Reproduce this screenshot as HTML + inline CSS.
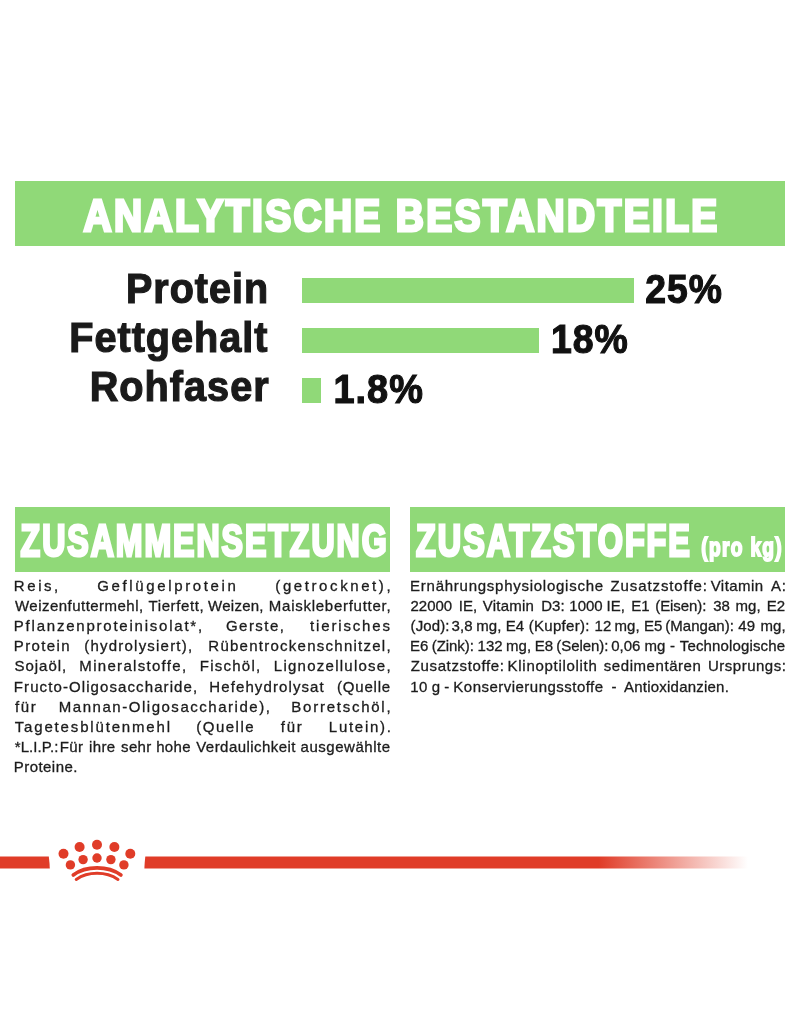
<!DOCTYPE html>
<html lang="de"><head><meta charset="utf-8"><title>Analytische Bestandteile</title>
<style>
html,body{margin:0;padding:0;background:#fff}
body{width:800px;height:1012px;position:relative;overflow:hidden;font-family:"Liberation Sans",sans-serif}
.g{position:absolute;background:#90d978}

.ln{position:absolute;left:0;width:800px;height:0;font-size:15px;line-height:0;color:#1c1c1c;-webkit-text-stroke:0.3px #1c1c1c;white-space:nowrap}
.ln span{position:absolute;top:0;display:block;line-height:0}
svg{position:absolute;left:0;top:0}
</style></head><body>
<div class="g" style="left:15px;top:181px;width:770px;height:65px"></div>
<div class="g" style="left:302px;top:277.5px;width:332px;height:25.5px"></div>
<div class="g" style="left:302px;top:327.5px;width:237px;height:25.5px"></div>
<div class="g" style="left:302px;top:377.5px;width:19px;height:25.5px"></div>
<div class="g" style="left:15px;top:506.6px;width:374.6px;height:65.1px"></div>
<div class="g" style="left:410px;top:506.6px;width:375px;height:65.1px"></div>
<svg class="t" width="800" height="1012" viewBox="0 0 800 1012" font-family="Liberation Sans, sans-serif" font-weight="bold" stroke-linejoin="miter">
<text transform="translate(83.61 230.70) scale(0.8777 1)" font-size="44.32" fill="#fff" stroke="#fff" stroke-width="3.0" letter-spacing="2.70">ANALYTISCHE BESTANDTEILE</text>
<text transform="translate(20.59 555.75) scale(0.7276 1)" font-size="44.10" fill="#fff" stroke="#fff" stroke-width="3.0" letter-spacing="2.70">ZUSAMMENSETZUNG</text>
<text transform="translate(416.09 555.75) scale(0.7333 1)" font-size="44.10" fill="#fff" stroke="#fff" stroke-width="3.0" letter-spacing="2.70">ZUSATZSTOFFE</text>
<text transform="translate(701.33 555.57) scale(0.7309 1)" font-size="26.16" fill="#fff" stroke="#fff" stroke-width="2.0" letter-spacing="1.80">(pro kg)</text>
<text transform="translate(125.99 303.30) scale(0.9280 1)" font-size="42.59" fill="#1a1a1a" stroke="#1a1a1a" stroke-width="1.2" letter-spacing="1.08">Protein</text>
<text transform="translate(69.18 352.20) scale(0.9308 1)" font-size="42.59" fill="#1a1a1a" stroke="#1a1a1a" stroke-width="1.2" letter-spacing="1.08">Fettgehalt</text>
<text transform="translate(89.67 401.30) scale(0.9257 1)" font-size="42.88" fill="#1a1a1a" stroke="#1a1a1a" stroke-width="1.2" letter-spacing="1.08">Rohfaser</text>
<text transform="translate(645.28 303.15) scale(0.9077 1)" font-size="41.14" fill="#111" stroke="#111" stroke-width="1.2" letter-spacing="1.08">25%</text>
<text transform="translate(551.01 353.20) scale(0.9128 1)" font-size="41.00" fill="#111" stroke="#111" stroke-width="1.2" letter-spacing="1.08">18%</text>
<text transform="translate(333.49 403.20) scale(0.9246 1)" font-size="41.00" fill="#111" stroke="#111" stroke-width="1.2" letter-spacing="1.08">1.8%</text>
</svg>
<div class="ln" style="top:586px"><span style="left:13.83px;letter-spacing:2.568px">Reis,</span> <span style="left:97.30px;letter-spacing:2.629px">Geflügelprotein</span> <span style="left:275.30px;letter-spacing:2.594px">(getrocknet),</span></div>
<div class="ln" style="top:606px"><span style="left:15.00px;letter-spacing:0.470px">Weizenfuttermehl,</span> <span style="left:148.52px;letter-spacing:0.602px">Tierfett,</span> <span style="left:208.12px;letter-spacing:0.245px">Weizen,</span> <span style="left:268.83px;letter-spacing:0.734px">Maiskleberfutter,</span></div>
<div class="ln" style="top:626px"><span style="left:13.83px;letter-spacing:1.774px">Pflanzenproteinisolat*,</span> <span style="left:225.95px;letter-spacing:1.474px">Gerste,</span> <span style="left:310.00px;letter-spacing:1.846px">tierisches</span></div>
<div class="ln" style="top:646px"><span style="left:13.83px;letter-spacing:1.373px">Protein</span> <span style="left:84.30px;letter-spacing:1.212px">(hydrolysiert),</span> <span style="left:208.33px;letter-spacing:1.256px">Rübentrockenschnitzel,</span></div>
<div class="ln" style="top:666px"><span style="left:14.53px;letter-spacing:0.961px">Sojaöl,</span> <span style="left:79.33px;letter-spacing:1.310px">Mineralstoffe,</span> <span style="left:199.83px;letter-spacing:1.230px">Fischöl,</span> <span style="left:273.83px;letter-spacing:1.254px">Lignozellulose,</span></div>
<div class="ln" style="top:687px"><span style="left:13.83px;letter-spacing:1.094px">Fructo-Oligosaccharide,</span> <span style="left:209.33px;letter-spacing:1.102px">Hefehydrolysat</span> <span style="left:337.09px;letter-spacing:0.777px">(Quelle</span></div>
<div class="ln" style="top:707px"><span style="left:15.00px;letter-spacing:1.610px">für</span> <span style="left:58.83px;letter-spacing:1.527px">Mannan-Oligosaccharide),</span> <span style="left:291.33px;letter-spacing:1.751px">Borretschöl,</span></div>
<div class="ln" style="top:727px"><span style="left:14.77px;letter-spacing:1.832px">Tagetesblütenmehl</span> <span style="left:196.27px;letter-spacing:1.502px">(Quelle</span> <span style="left:280.78px;letter-spacing:1.752px">für</span> <span style="left:328.83px;letter-spacing:1.714px">Lutein).</span></div>
<div class="ln" style="top:747px"><span style="left:14.77px;letter-spacing:0.079px">*L.I.P.:</span> <span style="left:59.75px;letter-spacing:0.329px">Für</span> <span style="left:89.09px;letter-spacing:0.329px">ihre</span> <span style="left:121.09px;letter-spacing:0.329px">sehr</span> <span style="left:156.16px;letter-spacing:0.329px">hohe</span> <span style="left:196.25px;letter-spacing:0.447px">Verdaulichkeit</span> <span style="left:300.53px;letter-spacing:0.535px">ausgewählte</span></div>
<div class="ln" style="top:767px"><span style="left:13.83px;letter-spacing:0.436px">Proteine.</span></div>
<div class="ln" style="top:586px"><span style="left:410.08px;letter-spacing:0.743px">Ernährungsphysiologische</span> <span style="left:610.53px;letter-spacing:0.894px">Zusatzstoffe:</span> <span style="left:710.68px;letter-spacing:0.455px">Vitamin</span> <span style="left:770.98px;letter-spacing:0.705px">A:</span></div>
<div class="ln" style="top:606px"><span style="left:410.55px;letter-spacing:-0.026px">22000</span> <span style="left:458.83px;letter-spacing:-0.026px">IE,</span> <span style="left:482.75px;letter-spacing:0.224px">Vitamin</span> <span style="left:541.32px;letter-spacing:-0.026px">D3:</span> <span style="left:569.32px;letter-spacing:-0.026px">1000</span> <span style="left:606.58px;letter-spacing:-0.026px">IE,</span> <span style="left:631.31px;letter-spacing:-0.026px">E1</span> <span style="left:655.30px;letter-spacing:-0.089px">(Eisen):</span> <span style="left:713.24px;letter-spacing:-0.026px">38</span> <span style="left:735.62px;letter-spacing:-0.026px">mg,</span> <span style="left:766.79px;letter-spacing:-0.026px">E2</span></div>
<div class="ln" style="top:626px"><span style="left:410.55px;letter-spacing:0.103px">(Jod):</span> <span style="left:451.54px;letter-spacing:0.103px">3,8</span> <span style="left:476.24px;letter-spacing:0.103px">mg,</span> <span style="left:505.63px;letter-spacing:0.103px">E4</span> <span style="left:528.80px;letter-spacing:0.276px">(Kupfer):</span> <span style="left:594.44px;letter-spacing:0.103px">12</span> <span style="left:614.49px;letter-spacing:0.103px">mg,</span> <span style="left:643.99px;letter-spacing:0.103px">E5</span> <span style="left:665.30px;letter-spacing:0.024px">(Mangan):</span> <span style="left:738.29px;letter-spacing:0.103px">49</span> <span style="left:760.41px;letter-spacing:0.103px">mg,</span></div>
<div class="ln" style="top:646px"><span style="left:410.08px;letter-spacing:-0.012px">E6</span> <span style="left:431.80px;letter-spacing:-0.073px">(Zink):</span> <span style="left:477.58px;letter-spacing:-0.012px">132</span> <span style="left:506.10px;letter-spacing:-0.012px">mg,</span> <span style="left:534.80px;letter-spacing:-0.012px">E8</span> <span style="left:556.30px;letter-spacing:-0.066px">(Selen):</span> <span style="left:611.24px;letter-spacing:-0.012px">0,06</span> <span style="left:644.54px;letter-spacing:-0.012px">mg</span> <span style="left:670.04px;letter-spacing:-0.012px">-</span> <span style="left:679.77px;letter-spacing:0.149px">Technologische</span></div>
<div class="ln" style="top:666px"><span style="left:410.78px;letter-spacing:0.623px">Zusatzstoffe:</span> <span style="left:507.58px;letter-spacing:0.709px">Klinoptilolith</span> <span style="left:603.77px;letter-spacing:0.563px">sedimentären</span> <span style="left:708.06px;letter-spacing:0.493px">Ursprungs:</span></div>
<div class="ln" style="top:687px"><span style="left:410.31px;letter-spacing:0.394px">10</span> <span style="left:431.77px;letter-spacing:0.394px">g</span> <span style="left:444.16px;letter-spacing:0.394px">-</span> <span style="left:453.33px;letter-spacing:0.481px">Konservierungsstoffe</span> <span style="left:611.54px;letter-spacing:0.394px">-</span> <span style="left:624.00px;letter-spacing:0.223px">Antioxidanzien.</span></div>
<svg width="800" height="1012" viewBox="0 0 800 1012">
<defs><linearGradient id="fade" x1="0" x2="1" y1="0" y2="0"><stop offset="0" stop-color="#e03c28"/><stop offset="0.753" stop-color="#e03c28"/><stop offset="1" stop-color="#e03c28" stop-opacity="0"/></linearGradient></defs>
<path d="M0 856.5 H48.8 Q49.6 862.6 49.8 868.6 H0 Z" fill="#e03c28"/>
<path d="M145.3 856.5 H748 V868.6 H144.4 Q144.6 862.6 145.3 856.5 Z" fill="url(#fade)"/>
<g fill="#e03c28"><circle cx="63.5" cy="853.8" r="5"/><circle cx="79.6" cy="847.0" r="5"/><circle cx="97" cy="844.7" r="5"/><circle cx="114.4" cy="847.0" r="5"/><circle cx="130.3" cy="853.8" r="5"/><circle cx="70.4" cy="864.9" r="4.7"/><circle cx="83.1" cy="859.6" r="4.7"/><circle cx="97" cy="858.0" r="4.7"/><circle cx="110.9" cy="859.6" r="4.7"/><circle cx="123.9" cy="864.9" r="4.7"/></g>
<path d="M73.3 875 C86 865.5 108 865.5 120.9 875" fill="none" stroke="#e03c28" stroke-width="3.7" stroke-linecap="round"/>
<path d="M76.2 879.4 C88 871.3 106 871.3 118 879.4" fill="none" stroke="#e03c28" stroke-width="3" stroke-linecap="round"/>
</svg>
</body></html>
